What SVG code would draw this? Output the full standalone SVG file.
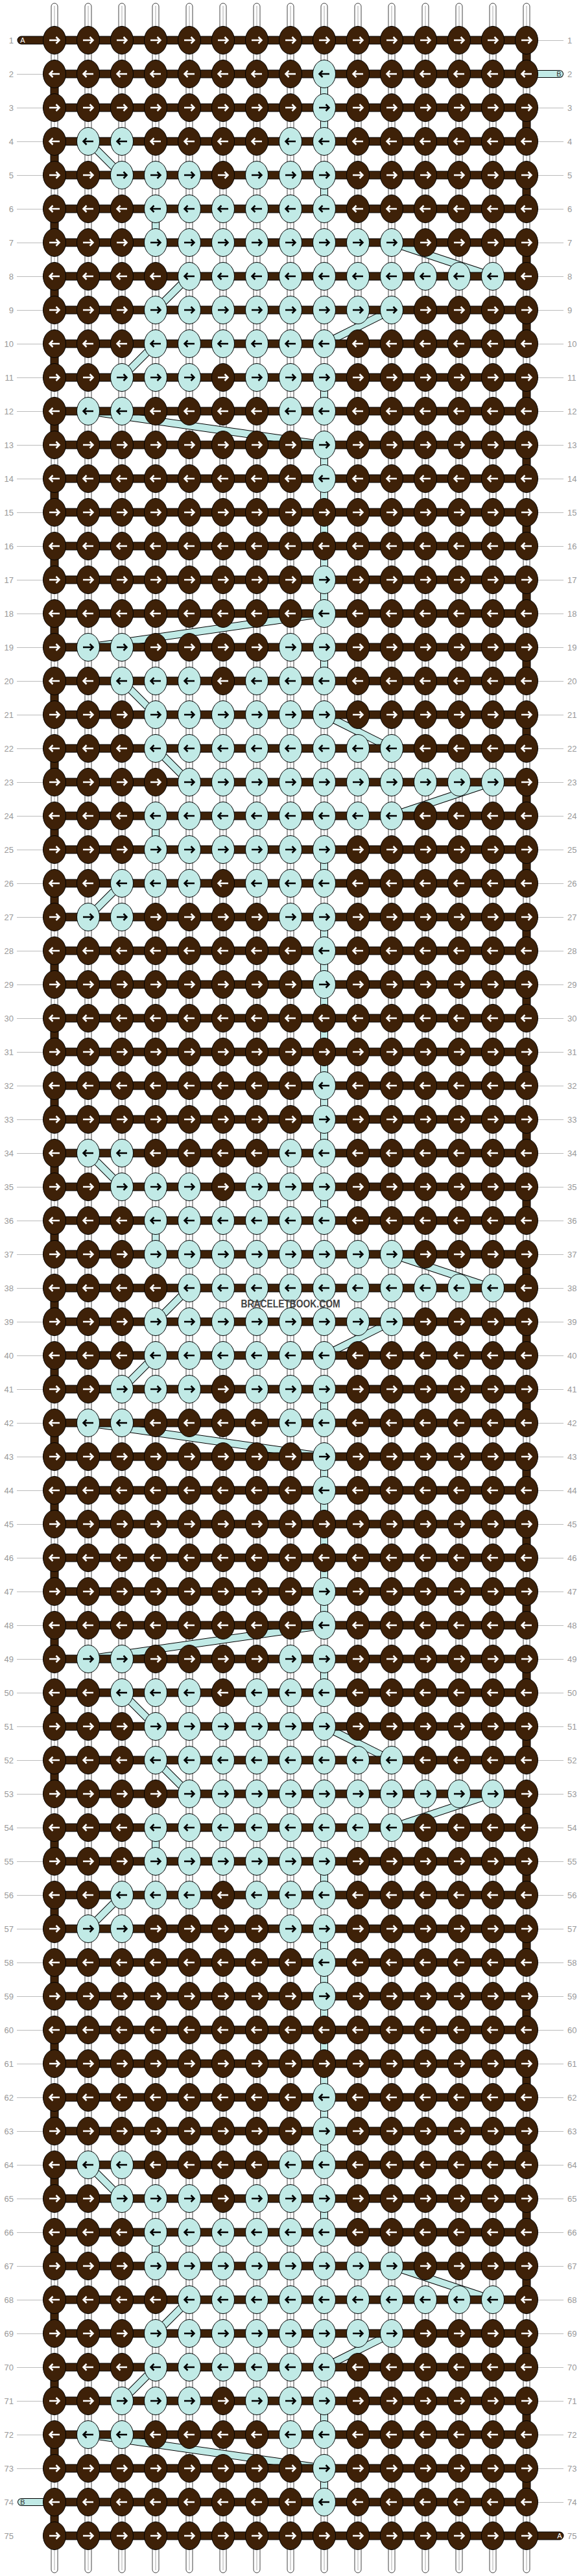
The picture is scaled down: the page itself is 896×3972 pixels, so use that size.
<svg xmlns="http://www.w3.org/2000/svg" width="896" height="3972" viewBox="0 0 896 3972">
<style>
.kb{fill:#3e2108;stroke:#000;stroke-width:1}
.kc{fill:#c1eae6;stroke:#000;stroke-width:1}
.aw{fill:none;stroke:#fff;stroke-width:2.5}
.ak{fill:none;stroke:#000;stroke-width:2.5}
.lab{font-family:"Liberation Sans",Arial,sans-serif;font-size:13px;fill:#999}
.tl{font-family:"Liberation Sans",Arial,sans-serif;font-size:11px;text-anchor:middle}
</style>
<defs>
<g id="st"><rect x="-5" y="5" width="10" height="3962" rx="5" fill="#fff" stroke="#444"/><line x1="0" y1="9" x2="0" y2="3963" stroke="#aaa"/></g>
<g id="a"><ellipse rx="17.5" ry="21.5" class="kb"/><path d="M-8 0H7M2.5-5L7.5 0 2.5 5" class="aw"/></g>
<g id="b"><ellipse rx="17.5" ry="21.5" class="kb"/><path d="M8 0H-7M-2.5-5L-7.5 0-2.5 5" class="aw"/></g>
<g id="c"><ellipse rx="17.5" ry="21.5" class="kc"/><path d="M-8 0H7M2.5-5L7.5 0 2.5 5" class="ak"/></g>
<g id="d"><ellipse rx="17.5" ry="21.5" class="kc"/><path d="M8 0H-7M-2.5-5L-7.5 0-2.5 5" class="ak"/></g>
<path id="bt" d="M863 114H500"/>
<path id="bp" d="M500 114V218H136L188 270H500V322H240V374H604L760 426H292L240 478H604L500 530H240L188 582H500V634H136L500 686V946L136 998H500V1050H188L240 1102H500L604 1154H240L292 1206H760L604 1258H240V1310H500V1362H188L136 1414H500V1674"/>
<path id="b3" d="M500 3234V3338H136L188 3390H500V3442H240V3494H604L760 3546H292L240 3598H604L500 3650H240L188 3702H500V3754H136L500 3806V3858H33"/>
<path id="ap" d="M33 62H812V114H84V166H812V218H84V270H812V322H84V374H812V426H84V478H812V530H84V582H812V634H84V686H812V738H84V790H812V842H84V894H812V946H84V998H812V1050H84V1102H812V1154H84V1206H812V1258H84V1310H812V1362H84V1414H812V1466H84V1518H812V1570H84V1622H812V1674H84V1726H812V1778H84V1830H812V1882H84V1934H812V1986H84V2038H812V2090H84V2142H812V2194H84V2246H812V2298H84V2350H812V2402H84V2454H812V2506H84V2558H812V2610H84V2662H812V2714H84V2766H812V2818H84V2870H812V2922H84V2974H812V3026H84V3078H812V3130H84V3182H812V3234H84V3286H812V3338H84V3390H812V3442H84V3494H812V3546H84V3598H812V3650H84V3702H812V3754H84V3806H812V3858H84V3910H863"/>
<pattern id="lp" patternUnits="userSpaceOnUse" width="896" height="52"><path d="M0 10.5H896" stroke="#bbb"/></pattern>
<g id="NR"><use href="#a" x="84"/><use href="#a" x="136"/><use href="#a" x="188"/><use href="#a" x="240"/><use href="#a" x="292"/><use href="#a" x="344"/><use href="#a" x="396"/><use href="#a" x="448"/><use href="#a" x="500"/><use href="#a" x="552"/><use href="#a" x="604"/><use href="#a" x="656"/><use href="#a" x="708"/><use href="#a" x="760"/><use href="#a" x="812"/></g>
<g id="NL"><use href="#b" x="84"/><use href="#b" x="136"/><use href="#b" x="188"/><use href="#b" x="240"/><use href="#b" x="292"/><use href="#b" x="344"/><use href="#b" x="396"/><use href="#b" x="448"/><use href="#b" x="500"/><use href="#b" x="552"/><use href="#b" x="604"/><use href="#b" x="656"/><use href="#b" x="708"/><use href="#b" x="760"/><use href="#b" x="812"/></g>
<g id="SR"><use href="#a" x="84"/><use href="#a" x="136"/><use href="#a" x="188"/><use href="#a" x="240"/><use href="#a" x="292"/><use href="#a" x="344"/><use href="#a" x="396"/><use href="#a" x="448"/><use href="#c" x="500"/><use href="#a" x="552"/><use href="#a" x="604"/><use href="#a" x="656"/><use href="#a" x="708"/><use href="#a" x="760"/><use href="#a" x="812"/></g>
<g id="SL"><use href="#b" x="84"/><use href="#b" x="136"/><use href="#b" x="188"/><use href="#b" x="240"/><use href="#b" x="292"/><use href="#b" x="344"/><use href="#b" x="396"/><use href="#b" x="448"/><use href="#d" x="500"/><use href="#b" x="552"/><use href="#b" x="604"/><use href="#b" x="656"/><use href="#b" x="708"/><use href="#b" x="760"/><use href="#b" x="812"/></g>
<g id="P4R"><use href="#a" x="84"/><use href="#c" x="136"/><use href="#c" x="188"/><use href="#a" x="240"/><use href="#a" x="292"/><use href="#a" x="344"/><use href="#a" x="396"/><use href="#c" x="448"/><use href="#c" x="500"/><use href="#a" x="552"/><use href="#a" x="604"/><use href="#a" x="656"/><use href="#a" x="708"/><use href="#a" x="760"/><use href="#a" x="812"/></g>
<g id="P4L"><use href="#b" x="84"/><use href="#d" x="136"/><use href="#d" x="188"/><use href="#b" x="240"/><use href="#b" x="292"/><use href="#b" x="344"/><use href="#b" x="396"/><use href="#d" x="448"/><use href="#d" x="500"/><use href="#b" x="552"/><use href="#b" x="604"/><use href="#b" x="656"/><use href="#b" x="708"/><use href="#b" x="760"/><use href="#b" x="812"/></g>
<g id="P5R"><use href="#a" x="84"/><use href="#a" x="136"/><use href="#c" x="188"/><use href="#c" x="240"/><use href="#c" x="292"/><use href="#a" x="344"/><use href="#c" x="396"/><use href="#c" x="448"/><use href="#c" x="500"/><use href="#a" x="552"/><use href="#a" x="604"/><use href="#a" x="656"/><use href="#a" x="708"/><use href="#a" x="760"/><use href="#a" x="812"/></g>
<g id="P5L"><use href="#b" x="84"/><use href="#b" x="136"/><use href="#d" x="188"/><use href="#d" x="240"/><use href="#d" x="292"/><use href="#b" x="344"/><use href="#d" x="396"/><use href="#d" x="448"/><use href="#d" x="500"/><use href="#b" x="552"/><use href="#b" x="604"/><use href="#b" x="656"/><use href="#b" x="708"/><use href="#b" x="760"/><use href="#b" x="812"/></g>
<g id="P6R"><use href="#a" x="84"/><use href="#a" x="136"/><use href="#a" x="188"/><use href="#c" x="240"/><use href="#c" x="292"/><use href="#c" x="344"/><use href="#c" x="396"/><use href="#c" x="448"/><use href="#c" x="500"/><use href="#a" x="552"/><use href="#a" x="604"/><use href="#a" x="656"/><use href="#a" x="708"/><use href="#a" x="760"/><use href="#a" x="812"/></g>
<g id="P6L"><use href="#b" x="84"/><use href="#b" x="136"/><use href="#b" x="188"/><use href="#d" x="240"/><use href="#d" x="292"/><use href="#d" x="344"/><use href="#d" x="396"/><use href="#d" x="448"/><use href="#d" x="500"/><use href="#b" x="552"/><use href="#b" x="604"/><use href="#b" x="656"/><use href="#b" x="708"/><use href="#b" x="760"/><use href="#b" x="812"/></g>
<g id="P7R"><use href="#a" x="84"/><use href="#a" x="136"/><use href="#a" x="188"/><use href="#c" x="240"/><use href="#c" x="292"/><use href="#c" x="344"/><use href="#c" x="396"/><use href="#c" x="448"/><use href="#c" x="500"/><use href="#c" x="552"/><use href="#c" x="604"/><use href="#a" x="656"/><use href="#a" x="708"/><use href="#a" x="760"/><use href="#a" x="812"/></g>
<g id="P7L"><use href="#b" x="84"/><use href="#b" x="136"/><use href="#b" x="188"/><use href="#d" x="240"/><use href="#d" x="292"/><use href="#d" x="344"/><use href="#d" x="396"/><use href="#d" x="448"/><use href="#d" x="500"/><use href="#d" x="552"/><use href="#d" x="604"/><use href="#b" x="656"/><use href="#b" x="708"/><use href="#b" x="760"/><use href="#b" x="812"/></g>
<g id="P8R"><use href="#a" x="84"/><use href="#a" x="136"/><use href="#a" x="188"/><use href="#a" x="240"/><use href="#c" x="292"/><use href="#c" x="344"/><use href="#c" x="396"/><use href="#c" x="448"/><use href="#c" x="500"/><use href="#c" x="552"/><use href="#c" x="604"/><use href="#c" x="656"/><use href="#c" x="708"/><use href="#c" x="760"/><use href="#a" x="812"/></g>
<g id="P8L"><use href="#b" x="84"/><use href="#b" x="136"/><use href="#b" x="188"/><use href="#b" x="240"/><use href="#d" x="292"/><use href="#d" x="344"/><use href="#d" x="396"/><use href="#d" x="448"/><use href="#d" x="500"/><use href="#d" x="552"/><use href="#d" x="604"/><use href="#d" x="656"/><use href="#d" x="708"/><use href="#d" x="760"/><use href="#b" x="812"/></g>
</defs>
<rect width="896" height="3972" fill="#fff"/>
<g id="label-lines">
<rect x="26" y="88" width="40" height="3744" fill="url(#lp)"/>
<rect x="830" y="36" width="39" height="52" fill="url(#lp)"/>
<rect x="830" y="140" width="39" height="3744" fill="url(#lp)"/>
</g>
<g id="strings">
<use href="#st" x="84"/><use href="#st" x="136"/><use href="#st" x="188"/><use href="#st" x="240"/><use href="#st" x="292"/><use href="#st" x="344"/><use href="#st" x="396"/><use href="#st" x="448"/><use href="#st" x="500"/><use href="#st" x="552"/><use href="#st" x="604"/><use href="#st" x="656"/><use href="#st" x="708"/><use href="#st" x="760"/><use href="#st" x="812"/>
</g>
<g id="connectors" fill="none" stroke-linecap="round">
<g id="string-B-outline" stroke="#000" stroke-width="12" stroke-linejoin="round"><use href="#bt"/><use href="#bp"/><use href="#bp" y="1560"/><use href="#b3"/></g>
<g id="string-B" stroke="#c1eae6" stroke-width="10" stroke-linejoin="round"><use href="#bt"/><use href="#bp"/><use href="#bp" y="1560"/><use href="#b3"/></g>
<use id="string-A-outline" href="#ap" stroke="#000" stroke-width="13"/>
<use id="string-A" href="#ap" stroke="#3e2108" stroke-width="11"/>
</g>
<g id="knots">
<use id="row1" href="#NR" y="62"/><use id="row2" href="#SL" y="114"/><use id="row3" href="#SR" y="166"/><use id="row4" href="#P4L" y="218"/><use id="row5" href="#P5R" y="270"/><use id="row6" href="#P6L" y="322"/><use id="row7" href="#P7R" y="374"/><use id="row8" href="#P8L" y="426"/><use id="row9" href="#P7R" y="478"/><use id="row10" href="#P6L" y="530"/><use id="row11" href="#P5R" y="582"/><use id="row12" href="#P4L" y="634"/><use id="row13" href="#SR" y="686"/><use id="row14" href="#SL" y="738"/><use id="row15" href="#NR" y="790"/><use id="row16" href="#NL" y="842"/><use id="row17" href="#SR" y="894"/><use id="row18" href="#SL" y="946"/><use id="row19" href="#P4R" y="998"/><use id="row20" href="#P5L" y="1050"/><use id="row21" href="#P6R" y="1102"/><use id="row22" href="#P7L" y="1154"/><use id="row23" href="#P8R" y="1206"/><use id="row24" href="#P7L" y="1258"/><use id="row25" href="#P6R" y="1310"/><use id="row26" href="#P5L" y="1362"/><use id="row27" href="#P4R" y="1414"/><use id="row28" href="#SL" y="1466"/><use id="row29" href="#SR" y="1518"/><use id="row30" href="#NL" y="1570"/>
<use id="row31" href="#NR" y="1622"/><use id="row32" href="#SL" y="1674"/><use id="row33" href="#SR" y="1726"/><use id="row34" href="#P4L" y="1778"/><use id="row35" href="#P5R" y="1830"/><use id="row36" href="#P6L" y="1882"/><use id="row37" href="#P7R" y="1934"/><use id="row38" href="#P8L" y="1986"/><use id="row39" href="#P7R" y="2038"/><use id="row40" href="#P6L" y="2090"/><use id="row41" href="#P5R" y="2142"/><use id="row42" href="#P4L" y="2194"/><use id="row43" href="#SR" y="2246"/><use id="row44" href="#SL" y="2298"/><use id="row45" href="#NR" y="2350"/><use id="row46" href="#NL" y="2402"/><use id="row47" href="#SR" y="2454"/><use id="row48" href="#SL" y="2506"/><use id="row49" href="#P4R" y="2558"/><use id="row50" href="#P5L" y="2610"/><use id="row51" href="#P6R" y="2662"/><use id="row52" href="#P7L" y="2714"/><use id="row53" href="#P8R" y="2766"/><use id="row54" href="#P7L" y="2818"/><use id="row55" href="#P6R" y="2870"/><use id="row56" href="#P5L" y="2922"/><use id="row57" href="#P4R" y="2974"/><use id="row58" href="#SL" y="3026"/><use id="row59" href="#SR" y="3078"/><use id="row60" href="#NL" y="3130"/>
<use id="row61" href="#NR" y="3182"/><use id="row62" href="#SL" y="3234"/><use id="row63" href="#SR" y="3286"/><use id="row64" href="#P4L" y="3338"/><use id="row65" href="#P5R" y="3390"/><use id="row66" href="#P6L" y="3442"/><use id="row67" href="#P7R" y="3494"/><use id="row68" href="#P8L" y="3546"/><use id="row69" href="#P7R" y="3598"/><use id="row70" href="#P6L" y="3650"/><use id="row71" href="#P5R" y="3702"/><use id="row72" href="#P4L" y="3754"/><use id="row73" href="#SR" y="3806"/><use id="row74" href="#SL" y="3858"/><use id="row75" href="#NR" y="3910"/>
</g>
<g id="tail-labels" class="tl">
<text x="35" y="66" fill="#fff">A</text>
<text x="862" y="118" fill="#333">B</text>
<text x="35" y="3862" fill="#333">B</text>
<text x="863" y="3914" fill="#fff">A</text>
</g>
<g id="row-labels-left" class="lab" text-anchor="end" transform="translate(21,0)">
<text y="67">1</text><text y="119">2</text><text y="171">3</text><text y="223">4</text><text y="275">5</text><text y="327">6</text><text y="379">7</text><text y="431">8</text><text y="483">9</text><text y="535">10</text><text y="587">11</text><text y="639">12</text><text y="691">13</text><text y="743">14</text><text y="795">15</text><text y="847">16</text><text y="899">17</text><text y="951">18</text><text y="1003">19</text><text y="1055">20</text><text y="1107">21</text><text y="1159">22</text><text y="1211">23</text><text y="1263">24</text><text y="1315">25</text><text y="1367">26</text><text y="1419">27</text><text y="1471">28</text><text y="1523">29</text><text y="1575">30</text><text y="1627">31</text><text y="1679">32</text><text y="1731">33</text><text y="1783">34</text><text y="1835">35</text><text y="1887">36</text><text y="1939">37</text><text y="1991">38</text><text y="2043">39</text><text y="2095">40</text><text y="2147">41</text><text y="2199">42</text><text y="2251">43</text><text y="2303">44</text><text y="2355">45</text><text y="2407">46</text><text y="2459">47</text><text y="2511">48</text><text y="2563">49</text><text y="2615">50</text><text y="2667">51</text><text y="2719">52</text><text y="2771">53</text><text y="2823">54</text><text y="2875">55</text><text y="2927">56</text><text y="2979">57</text><text y="3031">58</text><text y="3083">59</text><text y="3135">60</text><text y="3187">61</text><text y="3239">62</text><text y="3291">63</text><text y="3343">64</text><text y="3395">65</text><text y="3447">66</text><text y="3499">67</text><text y="3551">68</text><text y="3603">69</text><text y="3655">70</text><text y="3707">71</text><text y="3759">72</text><text y="3811">73</text><text y="3863">74</text><text y="3915">75</text>
</g>
<g id="row-labels-right" class="lab" transform="translate(875,0)">
<text y="67">1</text><text y="119">2</text><text y="171">3</text><text y="223">4</text><text y="275">5</text><text y="327">6</text><text y="379">7</text><text y="431">8</text><text y="483">9</text><text y="535">10</text><text y="587">11</text><text y="639">12</text><text y="691">13</text><text y="743">14</text><text y="795">15</text><text y="847">16</text><text y="899">17</text><text y="951">18</text><text y="1003">19</text><text y="1055">20</text><text y="1107">21</text><text y="1159">22</text><text y="1211">23</text><text y="1263">24</text><text y="1315">25</text><text y="1367">26</text><text y="1419">27</text><text y="1471">28</text><text y="1523">29</text><text y="1575">30</text><text y="1627">31</text><text y="1679">32</text><text y="1731">33</text><text y="1783">34</text><text y="1835">35</text><text y="1887">36</text><text y="1939">37</text><text y="1991">38</text><text y="2043">39</text><text y="2095">40</text><text y="2147">41</text><text y="2199">42</text><text y="2251">43</text><text y="2303">44</text><text y="2355">45</text><text y="2407">46</text><text y="2459">47</text><text y="2511">48</text><text y="2563">49</text><text y="2615">50</text><text y="2667">51</text><text y="2719">52</text><text y="2771">53</text><text y="2823">54</text><text y="2875">55</text><text y="2927">56</text><text y="2979">57</text><text y="3031">58</text><text y="3083">59</text><text y="3135">60</text><text y="3187">61</text><text y="3239">62</text><text y="3291">63</text><text y="3343">64</text><text y="3395">65</text><text y="3447">66</text><text y="3499">67</text><text y="3551">68</text><text y="3603">69</text><text y="3655">70</text><text y="3707">71</text><text y="3759">72</text><text y="3811">73</text><text y="3863">74</text><text y="3915">75</text>
</g>
<text id="watermark" x="448" y="2016" text-anchor="middle" font-family="Liberation Sans, Arial, sans-serif" font-weight="bold" font-size="16" fill="#444" textLength="153" lengthAdjust="spacingAndGlyphs">BRACELETBOOK.COM</text>
</svg>
